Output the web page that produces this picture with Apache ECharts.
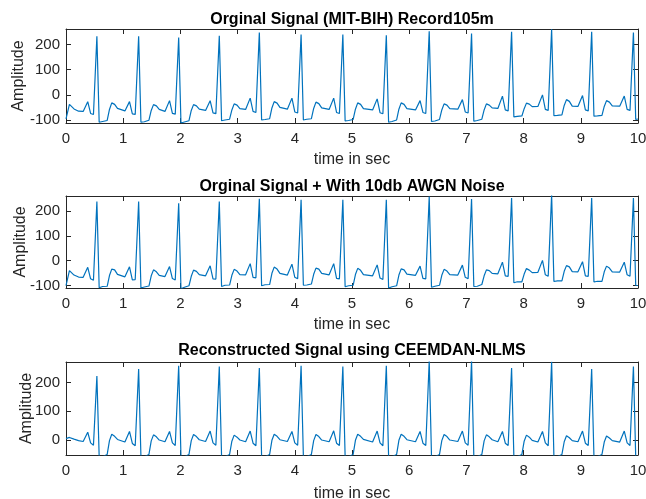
<!DOCTYPE html>
<html lang="en">
<head>
    <meta http-equiv="Content-Type" content="text/html; charset=utf-8"/>
    <title>ECG Signals</title>
    <script type="text/javascript" src="https://cdn.jsdelivr.net/npm/echarts@6/dist/echarts.min.js"></script>
</head>
<style>
    *{
        margin: 0;
        padding: 0;
    }
    html, body {
        width: 100%;
        height: 100%;
        background: #fff;
    }
    .main {
        width: 646px;
        height: 499px;
    }
</style>
<body>
<div id="main" class="main"></div>
</body>
<script type="text/javascript">

    // time axis (sec), key points
    var timeSec = [
        0.00, 0.06, 0.14, 0.22,
        0.30, 0.38, 0.43, 0.48, 0.51, 0.54, 0.58, 0.64, 0.72, 0.76, 0.80, 0.85, 0.90,
        1.03, 1.11, 1.16, 1.21, 1.24, 1.27, 1.31, 1.37, 1.45, 1.49, 1.53, 1.58, 1.63,
        1.73, 1.81, 1.86, 1.91, 1.94, 1.97, 2.01, 2.07, 2.15, 2.19, 2.23, 2.28, 2.33,
        2.44, 2.52, 2.57, 2.62, 2.65, 2.68, 2.72, 2.78, 2.86, 2.90, 2.94, 2.99, 3.04,
        3.14, 3.22, 3.27, 3.32, 3.35, 3.38, 3.42, 3.48, 3.56, 3.60, 3.64, 3.69, 3.74,
        3.87, 3.95, 4.00, 4.05, 4.08, 4.11, 4.15, 4.21, 4.29, 4.33, 4.37, 4.42, 4.47,
        4.60, 4.68, 4.73, 4.78, 4.81, 4.84, 4.88, 4.94, 5.02, 5.06, 5.10, 5.15, 5.20,
        5.36, 5.44, 5.49, 5.54, 5.57, 5.60, 5.64, 5.70, 5.78, 5.82, 5.86, 5.91, 5.96,
        6.11, 6.19, 6.24, 6.29, 6.32, 6.35, 6.39, 6.45, 6.53, 6.57, 6.61, 6.66, 6.71,
        6.85, 6.93, 6.98, 7.03, 7.06, 7.09, 7.13, 7.19, 7.27, 7.31, 7.35, 7.40, 7.45,
        7.55, 7.63, 7.68, 7.73, 7.76, 7.79, 7.83, 7.89, 7.97, 8.01, 8.05, 8.10, 8.15,
        8.25, 8.33, 8.38, 8.43, 8.46, 8.49, 8.53, 8.59, 8.67, 8.71, 8.75, 8.80, 8.85,
        8.95, 9.03, 9.08, 9.13, 9.16, 9.19, 9.23, 9.29, 9.37, 9.41, 9.45, 9.50, 9.55,
        9.68, 9.76, 9.81, 9.86, 9.89, 9.92, 9.96, 10.00
    ];

    // original signal (MIT-BIH record 105m)
    var origSignal = [
        -96, -38, -56, -65,
        -66, -27, -74, -78, -80, 233, -109, -106, -102, -58, -32, -38, -54,
        -64, -27, -76, -78, -79, 233, -109, -107, -101, -62, -39, -44, -58,
        -66, -23, -74, -77, -80, 228, -112, -108, -103, -62, -39, -44, -57,
        -62, -23, -72, -75, -77, 235, -103, -100, -97, -60, -36, -41, -55,
        -58, -13, -66, -70, -72, 248, -100, -98, -95, -52, -27, -33, -50,
        -57, -13, -68, -72, -74, 240, -100, -97, -95, -54, -29, -35, -52,
        -58, -13, -70, -74, -76, 240, -104, -102, -98, -57, -32, -38, -55,
        -60, -16, -71, -75, -77, 237, -109, -106, -100, -57, -32, -38, -55,
        -60, -23, -70, -74, -76, 253, -106, -104, -98, -60, -36, -41, -55,
        -57, -19, -68, -72, -74, 244, -105, -102, -97, -60, -36, -41, -52,
        -54, -5, -60, -64, -66, 251, -88, -86, -84, -55, -33, -37, -47,
        -46, 0, -58, -62, -64, 261, -83, -82, -80, -42, -19, -26, -45,
        -46, -3, -60, -64, -66, 251, -85, -84, -82, -46, -23, -29, -44,
        -45, -5, -58, -62, -64, 248, -98, -96
    ];

    // original + 10 dB AWGN
    var noisySignal = [
        -100, -40, -58, -66,
        -67, -27, -73, -79, -78, 238, -109, -104, -103, -60, -34, -37, -55,
        -65, -25, -77, -76, -80, 238, -110, -106, -102, -61, -37, -45, -59,
        -64, -24, -72, -78, -79, 231, -113, -107, -101, -63, -38, -43, -56,
        -61, -21, -73, -74, -78, 238, -104, -99, -98, -59, -35, -42, -56,
        -57, -12, -67, -69, -73, 249, -101, -97, -96, -51, -26, -34, -51,
        -58, -14, -67, -73, -73, 245, -99, -98, -94, -55, -30, -34, -51,
        -57, -12, -71, -73, -77, 245, -105, -101, -99, -56, -31, -39, -56,
        -61, -17, -70, -76, -76, 245, -110, -105, -101, -58, -33, -37, -54,
        -59, -22, -71, -73, -77, 258, -107, -103, -99, -59, -35, -42, -56,
        -58, -18, -67, -73, -73, 248, -104, -103, -96, -61, -37, -40, -51,
        -53, -6, -61, -63, -67, 252, -89, -85, -85, -54, -32, -38, -48,
        -47, 1, -57, -63, -63, 265, -84, -81, -81, -43, -20, -25, -44,
        -45, -4, -61, -63, -67, 252, -86, -83, -83, -45, -22, -30, -45,
        -46, -6, -57, -63, -63, 252, -99, -100
    ];

    // reconstructed with CEEMDAN-NLMS
    var reconSignal = [
        5, 9, 3, -2,
        -5, 27, -10, -18, -14, 222, -58, -58, -50, -2, 20, 13, 2,
        -7, 30, -12, -20, -15, 247, -58, -58, -50, -3, 18, 11, 0,
        -6, 30, -10, -19, -14, 258, -58, -58, -50, -2, 19, 12, 1,
        -5, 31, -10, -18, -14, 255, -58, -58, -50, -4, 17, 10, 0,
        -6, 31, -11, -20, -15, 250, -58, -58, -50, -1, 20, 13, 1,
        -5, 30, -10, -18, -14, 258, -58, -58, -50, -2, 19, 12, 0,
        -6, 32, -11, -19, -15, 255, -58, -58, -50, -1, 20, 13, 2,
        -7, 31, -10, -20, -14, 258, -58, -58, -50, -1, 20, 13, 1,
        -6, 30, -11, -19, -15, 275, -58, -58, -50, -2, 19, 12, 0,
        -5, 31, -10, -18, -14, 275, -58, -58, -50, -3, 18, 11, 1,
        -6, 30, -11, -19, -15, 250, -58, -58, -50, -4, 17, 10, -1,
        -7, 30, -10, -20, -14, 272, -58, -58, -50, -6, 15, 8, -2,
        -6, 31, -11, -19, -15, 247, -58, -58, -50, -7, 14, 7, -2,
        -7, 31, -10, -19, -14, 255, -58, -58
    ];

    var titles = [
        'Orginal Signal (MIT-BIH) Record105m',
        'Orginal Signal + With 10db AWGN Noise',
        'Reconstructed Signal using CEEMDAN-NLMS'
    ];
    var yTicks = [
        [-100, 0, 100, 200],
        [-100, 0, 100, 200],
        [0, 100, 200]
    ];
    var yLimits = [[-112, 262], [-110, 260], [-52, 271]];
    var signals = [origSignal, noisySignal, reconSignal];

    var font = '"Liberation Sans", Arial, sans-serif';
    var axisColor = '#262626';
    // outerBoundsMode none: keep the boxes where they are even if "10" touches the edge
    var grids = [
        {left: 66, right: 8, top: 29, height: 94, outerBoundsMode: 'none'},
        {left: 66, right: 8, top: 196, height: 92, outerBoundsMode: 'none'},
        {left: 66, right: 8, top: 362, height: 93, outerBoundsMode: 'none'}
    ];
    var titleTops = [12, 179, 343];
    var yNameGaps = [39, 37, 31];
    var xNameGaps = [29, 29, 31];

    function pairs(values) {
        var out = [];
        for (var i = 0; i < timeSec.length; i++) {
            out.push([timeSec[i], values[i]]);
        }
        return out;
    }

    var xAxes = [], yAxes = [], series = [], titleList = [];
    for (var k = 0; k < 3; k++) {
        titleList.push({
            text: titles[k],
            left: 352,
            top: titleTops[k],
            textAlign: 'center',
            padding: 0,
            textStyle: {fontSize: 16, fontWeight: 'bold', color: '#000', fontFamily: font}
        });
        // bottom axis with labels
        xAxes.push({
            type: 'value', gridIndex: k, position: 'bottom',
            min: 0, max: 10, interval: 1,
            name: 'time in sec', nameLocation: 'middle', nameGap: xNameGaps[k],
            nameMoveOverlap: false,
            nameTextStyle: {fontSize: 16, color: '#262626', fontFamily: font},
            axisLine: {show: true, onZero: false, lineStyle: {color: axisColor, width: 1}},
            axisTick: {show: true, inside: true, length: 5, lineStyle: {color: axisColor}},
            axisLabel: {fontSize: 15, color: '#262626', margin: 8, fontFamily: font},
            splitLine: {show: false}
        });
        // left axis with labels
        yAxes.push({
            type: 'value', gridIndex: k, position: 'left',
            min: yLimits[k][0], max: yLimits[k][1],
            name: 'Amplitude', nameLocation: 'middle', nameGap: yNameGaps[k],
            nameMoveOverlap: false,
            nameTextStyle: {fontSize: 16, color: '#262626', fontFamily: font},
            axisLine: {show: true, onZero: false, lineStyle: {color: axisColor, width: 1}},
            axisTick: {show: true, inside: true, length: 5, customValues: yTicks[k], lineStyle: {color: axisColor}},
            axisLabel: {fontSize: 15, color: '#262626', margin: 6, fontFamily: font, customValues: yTicks[k]},
            splitLine: {show: false}
        });
        series.push({
            type: 'line',
            xAxisIndex: k, yAxisIndex: k,
            data: pairs(signals[k]),
            showSymbol: false,
            clip: true,
            lineStyle: {color: '#0072BD', width: 1.2},
            itemStyle: {color: '#0072BD'}
        });
    }
    // top / right box edges (MATLAB style box with ticks)
    for (var j = 0; j < 3; j++) {
        xAxes.push({
            type: 'value', gridIndex: j, position: 'top',
            min: 0, max: 10, interval: 1,
            axisLine: {show: true, onZero: false, lineStyle: {color: axisColor, width: 1}},
            axisTick: {show: true, inside: true, length: 5, lineStyle: {color: axisColor}},
            axisLabel: {show: false},
            splitLine: {show: false}
        });
        yAxes.push({
            type: 'value', gridIndex: j, position: 'right',
            min: yLimits[j][0], max: yLimits[j][1],
            axisLine: {show: true, onZero: false, lineStyle: {color: axisColor, width: 1}},
            axisTick: {show: true, inside: true, length: 5, customValues: yTicks[j], lineStyle: {color: axisColor}},
            axisLabel: {show: false},
            splitLine: {show: false}
        });
    }

    var option = {
        backgroundColor: '#fff',
        animation: false,
        title: titleList,
        grid: grids,
        xAxis: xAxes,
        yAxis: yAxes,
        series: series
    };

    var chart = echarts.init(document.getElementById('main'));
    chart.setOption(option);
</script>

</html>
